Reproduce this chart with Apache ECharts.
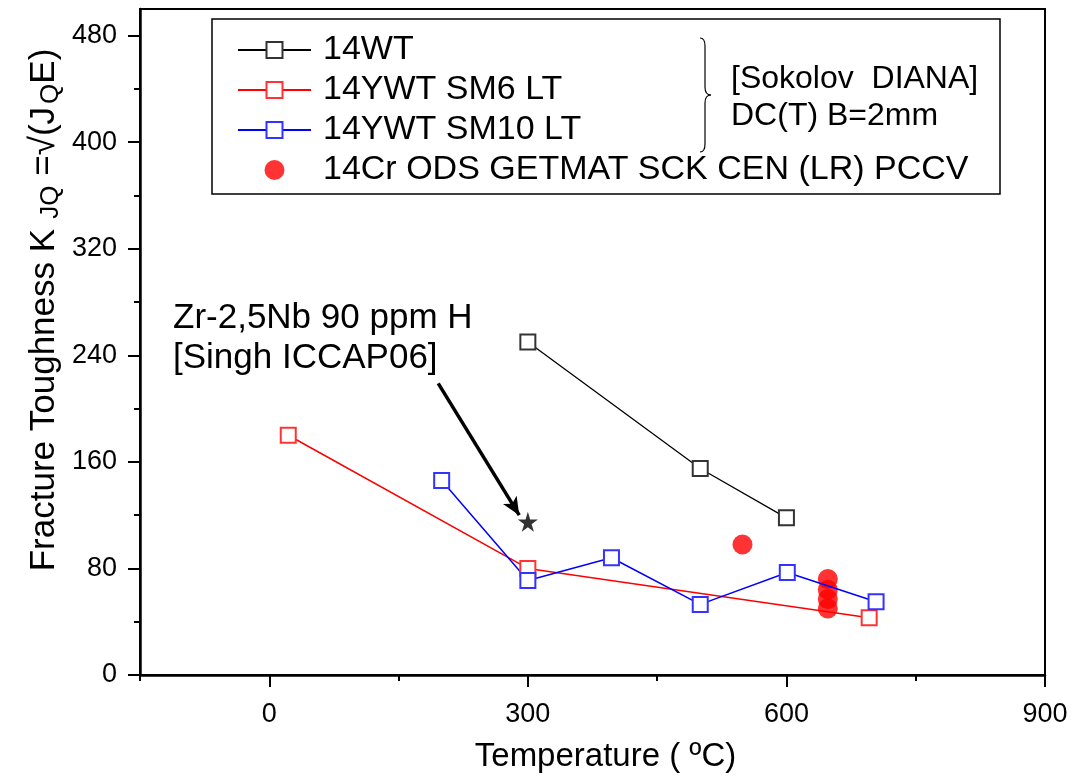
<!DOCTYPE html>
<html>
<head>
<meta charset="utf-8">
<title>Fracture toughness vs temperature</title>
<script src="https://cdn.jsdelivr.net/npm/echarts@6/dist/echarts.min.js"></script>
<style>
  html, body { margin: 0; padding: 0; background: #fff; }
  #chart { width: 1072px; height: 781px; }
</style>
</head>
<body>
<div id="chart"></div>
<script>
// axis ticks
var xTicks = [0, 300, 600, 900];
var xMinorTicks = [-150, 150, 450, 750];
var yTicks = [0, 80, 160, 240, 320, 400, 480];
var yMinorTicks = [40, 120, 200, 280, 360, 440];

// data (temperature degC, K)
var wt14_temp = [300, 500, 600];
var wt14_k = [250, 155, 118];
var sm6_temp = [22, 300, 696];
var sm6_k = [180, 80, 43];
var sm10_temp = [200, 300, 397, 500, 601, 704];
var sm10_k = [146, 71, 88, 53, 77, 55];
var ods_temp = [549, 648, 648, 648, 648];
var ods_k = [98, 72, 64, 57, 50];
var singh_temp = [300];
var singh_k = [115];

// arrow of the Zr-2,5Nb note, in data units
var arrow_from = [196, 219];
var arrow_to = [290, 120];

var names = ['14WT', '14YWT SM6 LT', '14YWT SM10 LT', '14Cr ODS GETMAT SCK CEN (LR) PCCV'];

var font = "'Liberation Sans', Arial, sans-serif";
var starPath = 'path://M50,0 L61,35 L98,35 L68,57 L79,91 L50,70 L21,91 L32,57 L2,35 L39,35 Z';

function zip(xs, ys) {
  var out = [];
  for (var i = 0; i < xs.length; i++) {
    out.push([xs[i], ys[i]]);
  }
  return out;
}

function lineSeries(name, xs, ys, lineColor, boxColor, width) {
  return {
    name: name,
    type: 'line',
    data: zip(xs, ys),
    symbol: 'rect',
    symbolSize: 15,
    lineStyle: { color: lineColor, width: width },
    itemStyle: { color: '#fff', borderColor: boxColor, borderWidth: 2 },
    emphasis: { disabled: true }
  };
}

// curly brace next to the first three legend rows
var braceStyle = { fill: 'none', stroke: '#000', lineWidth: 1.2 };
var brace = [
  { type: 'bezierCurve', shape: { x1: 700, y1: 38, cpx1: 705, cpy1: 38, x2: 705, y2: 46 }, style: braceStyle },
  { type: 'line', shape: { x1: 705, y1: 46, x2: 705, y2: 87 }, style: braceStyle },
  { type: 'bezierCurve', shape: { x1: 705, y1: 87, cpx1: 705, cpy1: 95, x2: 711, y2: 95 }, style: braceStyle },
  { type: 'bezierCurve', shape: { x1: 711, y1: 95, cpx1: 705, cpy1: 95, x2: 705, y2: 103 }, style: braceStyle },
  { type: 'line', shape: { x1: 705, y1: 103, x2: 705, y2: 144 }, style: braceStyle },
  { type: 'bezierCurve', shape: { x1: 705, y1: 144, cpx1: 705, cpy1: 152, x2: 700, y2: 152 }, style: braceStyle }
];

var myChart = echarts.init(document.getElementById('chart'));

var option = {
  animation: false,
  grid: {
    left: 140, right: 27, top: 9, bottom: 106,
    show: true, borderColor: '#000', borderWidth: 2
  },
  legend: {
    data: names,
    orient: 'vertical',
    left: 237,
    top: 33,
    padding: 0,
    itemWidth: 73,
    itemHeight: 20,
    itemGap: 6,
    selectedMode: false,
    textStyle: { fontFamily: font, fontSize: 34, color: '#000', lineHeight: 24, padding: [10, 0, 0, 7] }
  },
  xAxis: [{
    type: 'value', min: -150, max: 900, position: 'bottom', offset: 0,
    axisLine: { onZero: false, lineStyle: { color: '#000', width: 2.5 } },
    axisTick: { customValues: xTicks, length: 12, lineStyle: { color: '#000', width: 2 } },
    axisLabel: { customValues: xTicks, fontFamily: font, fontSize: 27, color: '#000', margin: 26 },
    splitLine: { show: false },
    name: 'Temperature ( ºC)',
    nameLocation: 'middle',
    nameGap: 65,
    nameTextStyle: { fontFamily: font, fontSize: 33, color: '#000', padding: [0, 0, 0, 26] }
  }, {
    type: 'value', min: -150, max: 900, position: 'bottom', offset: 0,
    axisLine: { show: false, onZero: false },
    axisTick: { customValues: xMinorTicks, length: 6, lineStyle: { color: '#000', width: 2 } },
    axisLabel: { show: false },
    splitLine: { show: false }
  }],
  yAxis: [{
    type: 'value', min: 0, max: 500, position: 'left', offset: 0,
    axisLine: { show: true, onZero: false, lineStyle: { color: '#000', width: 2.5 } },
    axisTick: { show: true, customValues: yTicks, length: 12, lineStyle: { color: '#000', width: 2 } },
    axisLabel: { customValues: yTicks, fontFamily: font, fontSize: 27, color: '#000', margin: 23 },
    splitLine: { show: false }
  }, {
    type: 'value', min: 0, max: 500, position: 'left', offset: 0,
    axisLine: { show: false, onZero: false },
    axisTick: { show: true, customValues: yMinorTicks, length: 6, lineStyle: { color: '#000', width: 2 } },
    axisLabel: { show: false },
    splitLine: { show: false }
  }],
  series: [
    lineSeries(names[0], wt14_temp, wt14_k, '#000', '#333', 1.3),
    lineSeries(names[1], sm6_temp, sm6_k, '#ff0000', '#ff3333', 1.5),
    lineSeries(names[2], sm10_temp, sm10_k, '#0000ff', '#3333ff', 1.5),
    {
      name: names[3],
      type: 'scatter',
      data: zip(ods_temp, ods_k),
      symbol: 'circle',
      symbolSize: 20,
      itemStyle: { color: '#ff0000' },
      emphasis: { disabled: true }
    },
    {
      name: 'Zr-2,5Nb',
      type: 'scatter',
      data: zip(singh_temp, singh_k),
      symbol: starPath,
      symbolSize: 20,
      itemStyle: { color: '#000' },
      emphasis: { disabled: true },
      markLine: {
        silent: true,
        symbol: ['none', 'arrow'],
        symbolSize: [12, 18],
        label: { show: false },
        lineStyle: { color: '#000', width: 3.5, type: 'solid' },
        data: [[{ coord: arrow_from }, { coord: arrow_to }]]
      }
    }
  ],
  graphic: [
    {
      type: 'rect',
      shape: { x: 212, y: 19, width: 788, height: 175 },
      style: { fill: 'none', stroke: '#000', lineWidth: 1.5 }
    },
    {
      type: 'text', x: 731, y: 79,
      style: { text: '[Sokolov  DIANA]', font: '32px ' + font, fill: '#000', verticalAlign: 'middle' }
    },
    {
      type: 'text', x: 731, y: 116,
      style: { text: 'DC(T) B=2mm', font: '32px ' + font, fill: '#000', verticalAlign: 'middle' }
    },
    {
      type: 'text', x: 173, y: 318,
      style: { text: 'Zr-2,5Nb 90 ppm H', font: '35px ' + font, fill: '#000', verticalAlign: 'middle' }
    },
    {
      type: 'text', x: 173, y: 358,
      style: { text: '[Singh ICCAP06]', font: '35px ' + font, fill: '#000', verticalAlign: 'middle' }
    },
    {
      type: 'text', x: 44, y: 310, rotation: Math.PI / 2,
      style: {
        text: '{n|Fracture Toughness K}{s| JQ}{n| =√(J}{s|Q}{n|E)}',
        align: 'center',
        verticalAlign: 'middle',
        fill: '#000',
        rich: {
          n: { fontFamily: font, fontSize: 35, lineHeight: 38, verticalAlign: 'middle' },
          s: { fontFamily: font, fontSize: 26, lineHeight: 26, padding: [14, 0, 0, 3], verticalAlign: 'middle' }
        }
      }
    }
  ].concat(brace)
};

myChart.setOption(option);
</script>
</body>
</html>
